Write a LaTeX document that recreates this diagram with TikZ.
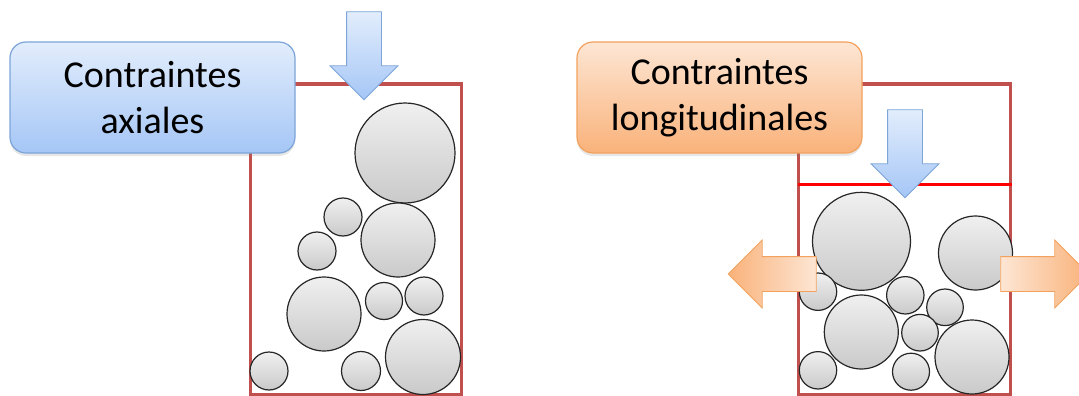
\documentclass[tikz,border=0pt]{standalone}
\usepackage{fontspec}
\setmainfont{Carlito}
\usetikzlibrary{shapes.arrows, shadows}

\definecolor{frame red}{HTML}{C0504D}
\definecolor{blue top}{HTML}{E2EDFC}
\definecolor{blue bot}{HTML}{A5C6F6}
\definecolor{blue line}{HTML}{7DA5D8}
\definecolor{orange top}{HTML}{FDE6D4}
\definecolor{orange bot}{HTML}{F9B27A}
\definecolor{orange line}{HTML}{F2A25E}

\begin{document}
\begin{tikzpicture}[
    x=1pt, y=-1pt,
    label box/.style={
        draw=#1 line, line width=1.2pt, rounded corners=16pt,
        top color=#1 top, bottom color=#1 bot,
        minimum width=285pt, minimum height=111pt, align=center,
        font=\fontsize{38}{46}\selectfont,
        drop shadow={opacity=0.2, shadow xshift=0pt, shadow yshift=-3pt}
    },
    block arrow/.style={
        single arrow, draw=#1 line, line width=0.8pt,
        inner xsep=0pt, inner ysep=17pt, text height=0pt, text depth=0pt,
        minimum height=88pt,
        single arrow head extend=16.5pt, single arrow head indent=0pt
    },
    push/.style={block arrow=blue, top color=blue top, bottom color=blue bot,
        rotate=-90},
    grain/.style={
        circle, draw=black!85, line width=1.2pt, inner sep=0pt,
        top color=gray!12, bottom color=gray!42
    },
    frame/.style={draw=frame red, line width=3pt}
]

\useasboundingbox (0,0) rectangle (1079,396);

% ------------------------------------------------------------------------------
% 1. CONTRAINTES AXIALES
% ------------------------------------------------------------------------------
\draw[frame] (250,84) rectangle (461,394);

\foreach \n/\x/\y/\r in {1/405/153/50, 2/343/217/19, 3/398/240/37, 4/317/251/19,
    5/324/314/37, 6/384/301/18.5, 7/424/296/19, 8/423/357/37.5,
    9/269/371/19, 10/361/371/19.5} {
    \node[grain, minimum size=2*\r] (ax\n) at (\x,\y) {};
}

\node[push] (axpush) at (364,47) {};

\node[label box=blue] (axial) at (152.5,97.5) {Contraintes\\axiales};

% ------------------------------------------------------------------------------
% 2. CONTRAINTES LONGITUDINALES
% ------------------------------------------------------------------------------
\draw[frame] (798,84) rectangle (1010,394);
\draw[red, line width=3pt] (798,184) -- (1012,184);

\foreach \n/\x/\y/\r in {1/861.5/241.3/49, 2/975.5/253/37, 3/818/291.7/18.7,
    4/905.3/295.3/18.7, 5/945/307.3/18.3, 6/861.3/332/37, 7/920/332.7/18.3,
    8/972/357/37, 9/818/370.3/18.7, 10/911/371.7/18.5} {
    \node[grain, minimum size=2*\r] (lg\n) at (\x,\y) {};
}

\node[push] (lgpush) at (905,145) {};
\node[block arrow=orange, left color=orange bot, right color=orange top,
    rotate=180] (lgleft) at (781,274) {};
\node[block arrow=orange, left color=orange top, right color=orange bot]
    (lgright) at (1036,274) {};

\node[label box=orange] (longit) at (719.5,97.5) {Contraintes\\longitudinales};

\end{tikzpicture}
\end{document}
